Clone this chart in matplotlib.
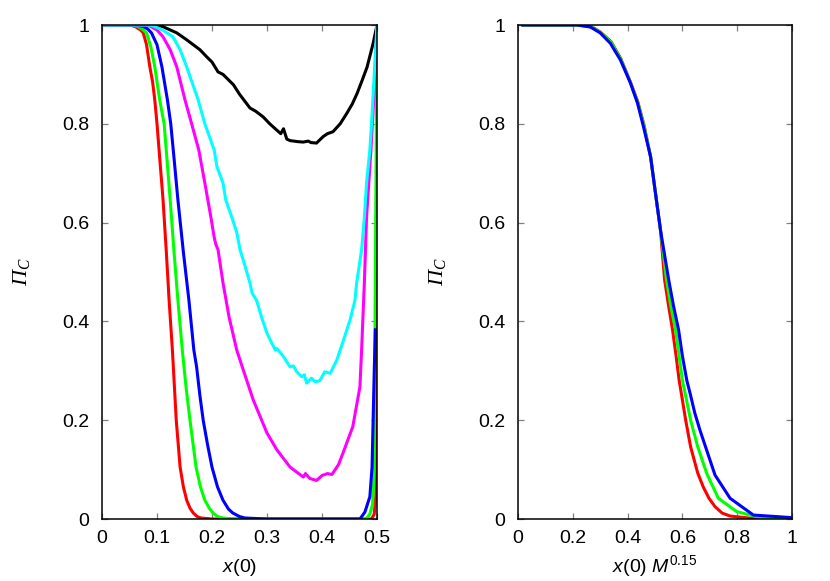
import matplotlib
matplotlib.use("Agg")
import matplotlib.pyplot as plt

plt.rcParams['font.family'] = ['Liberation Sans', 'DejaVu Sans']
plt.rcParams['mathtext.fontset'] = 'custom'
plt.rcParams['mathtext.rm'] = 'Liberation Sans'
plt.rcParams['mathtext.it'] = 'Liberation Sans:italic'
plt.rcParams['mathtext.sf'] = 'Liberation Serif:italic'

# ---------------- Left panel data: Pi_C vs x(0) ----------------
red_x = [0, 0.05, 0.06, 0.07, 0.075, 0.081, 0.087, 0.092, 0.096, 0.1, 0.105, 0.111, 0.117, 0.122, 0.128, 0.135, 0.142,
         0.148, 0.154, 0.16, 0.166, 0.173, 0.18, 0.2, 0.3, 0.4, 0.49, 0.495, 0.498, 0.499, 0.5]
red_y = [1, 1, 0.997, 0.99, 0.984, 0.96, 0.915, 0.885, 0.848, 0.8, 0.73, 0.646, 0.54, 0.443, 0.342, 0.2, 0.105,
         0.065, 0.038, 0.022, 0.012, 0.005, 0.002, 0, 0, 0, 0, 0.01, 0.05, 0.5, 1.0]

green_x = [0, 0.055, 0.065, 0.073, 0.081, 0.089, 0.096, 0.105, 0.113, 0.118, 0.124, 0.131, 0.138, 0.146, 0.153, 0.16,
           0.171, 0.179, 0.187, 0.195, 0.202, 0.21, 0.22, 0.24, 0.3, 0.4, 0.48, 0.487, 0.492, 0.495, 0.497, 0.5]
green_y = [1, 1, 0.997, 0.992, 0.984, 0.955, 0.915, 0.848, 0.8, 0.73, 0.646, 0.54, 0.443, 0.342, 0.265, 0.2,
           0.105, 0.065, 0.038, 0.022, 0.012, 0.005, 0.002, 0, 0, 0, 0, 0.01, 0.03, 0.1, 0.5, 1.0]

blue_x = [0, 0.06, 0.075, 0.083, 0.09, 0.1, 0.109, 0.119, 0.125, 0.131, 0.138, 0.148, 0.158, 0.167, 0.172, 0.178,
          0.184, 0.192, 0.2, 0.21, 0.22, 0.23, 0.238, 0.25, 0.26, 0.3, 0.4, 0.469, 0.478, 0.487, 0.491, 0.495, 0.497]
blue_y = [1, 1, 0.997, 0.992, 0.984, 0.96, 0.915, 0.848, 0.8, 0.73, 0.646, 0.54, 0.443, 0.342, 0.308, 0.25,
          0.2, 0.15, 0.105, 0.065, 0.038, 0.02, 0.012, 0.005, 0.002, 0, 0, 0, 0.014, 0.045, 0.105, 0.3, 0.383]

magenta_x = [0, 0.08, 0.087, 0.1, 0.111, 0.124, 0.136, 0.151, 0.163, 0.176, 0.187, 0.198, 0.204, 0.207, 0.211, 0.22,
             0.231, 0.245, 0.255, 0.275, 0.3, 0.318, 0.342, 0.36, 0.366, 0.37, 0.378, 0.39, 0.4, 0.41, 0.418, 0.43,
             0.438, 0.456, 0.469, 0.472, 0.477, 0.481, 0.489, 0.495, 0.5]
magenta_y = [1, 1, 0.998, 0.99, 0.976, 0.95, 0.915, 0.848, 0.8, 0.747, 0.68, 0.611, 0.57, 0.556, 0.545, 0.478,
             0.409, 0.342, 0.308, 0.241, 0.174, 0.14, 0.105, 0.09, 0.085, 0.092, 0.082, 0.078, 0.088, 0.092, 0.09,
             0.11, 0.133, 0.187, 0.268, 0.342, 0.478, 0.611, 0.747, 0.87, 1.0]

cyan_x = [0, 0.085, 0.093, 0.11, 0.129, 0.142, 0.154, 0.175, 0.187, 0.204, 0.209, 0.22, 0.225, 0.236, 0.245, 0.251,
          0.258, 0.269, 0.273, 0.281, 0.29, 0.3, 0.307, 0.315, 0.318, 0.33, 0.336, 0.342, 0.348, 0.354, 0.363, 0.368,
          0.372, 0.381, 0.388, 0.396, 0.405, 0.415, 0.427, 0.439, 0.451, 0.46, 0.463, 0.472, 0.477, 0.481, 0.487,
          0.49, 0.495, 0.5]
cyan_y = [1, 1, 0.998, 0.99, 0.976, 0.95, 0.915, 0.848, 0.8, 0.747, 0.713, 0.68, 0.646, 0.611, 0.58, 0.545,
          0.52, 0.478, 0.457, 0.443, 0.409, 0.376, 0.36, 0.342, 0.345, 0.329, 0.318, 0.308, 0.31, 0.298, 0.288, 0.292,
          0.275, 0.285, 0.278, 0.28, 0.298, 0.295, 0.322, 0.362, 0.403, 0.443, 0.478, 0.545, 0.611, 0.68, 0.747,
          0.8, 0.9, 1.0]

black_x = [0, 0.09, 0.11, 0.136, 0.154, 0.178, 0.19, 0.2, 0.211, 0.22, 0.239, 0.25, 0.269, 0.28, 0.293, 0.305, 0.318,
           0.325, 0.33, 0.336, 0.342, 0.355, 0.366, 0.375, 0.38, 0.39, 0.402, 0.41, 0.42, 0.433, 0.445, 0.455, 0.464,
           0.473, 0.482, 0.493, 0.5]
black_y = [1, 1, 0.997, 0.984, 0.97, 0.95, 0.936, 0.925, 0.905, 0.9, 0.879, 0.86, 0.832, 0.825, 0.814, 0.8, 0.787,
           0.78, 0.79, 0.769, 0.766, 0.764, 0.763, 0.765, 0.762, 0.761, 0.774, 0.78, 0.784, 0.8, 0.821, 0.84, 0.862,
           0.888, 0.915, 0.963, 1.0]

# ---------------- Right panel data: Pi_C vs x(0) M^0.15 ----------------
r_red_x = [0.018, 0.22, 0.27, 0.3, 0.34, 0.375, 0.41, 0.437, 0.46, 0.484, 0.505, 0.52, 0.535, 0.55, 0.564, 0.577, 0.588,
           0.6, 0.612, 0.63, 0.656, 0.676, 0.697, 0.719, 0.745, 0.774, 0.859, 1.0]
r_red_y = [1, 1, 0.996, 0.986, 0.966, 0.932, 0.885, 0.845, 0.797, 0.733, 0.646, 0.585, 0.484, 0.43, 0.383, 0.33, 0.281,
           0.241, 0.2, 0.146, 0.093, 0.065, 0.042, 0.025, 0.012, 0.006, 0.001, 0.0]

r_green_x = [0.018, 0.22, 0.27, 0.3, 0.34, 0.375, 0.41, 0.437, 0.46, 0.484, 0.505, 0.52, 0.542, 0.558, 0.575, 0.588,
             0.6, 0.615, 0.63, 0.656, 0.689, 0.731, 0.798, 0.883, 1.0]
r_green_y = [1, 1, 0.996, 0.985, 0.965, 0.931, 0.884, 0.843, 0.795, 0.733, 0.646, 0.585, 0.484, 0.43, 0.383, 0.33,
             0.281, 0.241, 0.2, 0.146, 0.092, 0.042, 0.015, 0.003, 0.0]

r_blue_x = [0.018, 0.216, 0.264, 0.3, 0.337, 0.374, 0.41, 0.436, 0.458, 0.484, 0.505, 0.52, 0.55, 0.568, 0.586, 0.6,
            0.616, 0.63, 0.645, 0.664, 0.719, 0.774, 0.859, 0.993, 1.0]
r_blue_y = [1, 1, 0.996, 0.984, 0.963, 0.929, 0.883, 0.842, 0.794, 0.733, 0.646, 0.585, 0.484, 0.43, 0.383, 0.33,
            0.281, 0.25, 0.215, 0.18, 0.089, 0.042, 0.008, 0.003, 0.002]

left_xticks = [0, 0.1, 0.2, 0.3, 0.4, 0.5]
left_xticklabels = ['0', '0.1', '0.2', '0.3', '0.4', '0.5']
right_xticks = [0, 0.2, 0.4, 0.6, 0.8, 1.0]
right_xticklabels = ['0', '0.2', '0.4', '0.6', '0.8', '1']
yticks = [0, 0.2, 0.4, 0.6, 0.8, 1.0]
yticklabels = ['0', '0.2', '0.4', '0.6', '0.8', '1']

fig = plt.figure(figsize=(8.3, 5.81), dpi=100)
W, H = 830, 581
axL = fig.add_axes([102 / W, (H - 519) / H, 275 / W, 494 / H])
axR = fig.add_axes([518 / W, (H - 519) / H, 274 / W, 494 / H])

lw = 2.2
axL.plot(black_x, black_y, color='#000000', lw=lw)
axL.plot(red_x, red_y, color='#ff0000', lw=lw)
axL.plot(green_x, green_y, color='#00ff00', lw=lw)
axL.plot(blue_x, blue_y, color='#0000ff', lw=lw)
axL.plot(magenta_x, magenta_y, color='#ff00ff', lw=lw)
axL.plot(cyan_x, cyan_y, color='#00ffff', lw=lw)

axR.plot(r_red_x, r_red_y, color='#ff0000', lw=lw)
axR.plot(r_green_x, r_green_y, color='#00ff00', lw=lw)
axR.plot(r_blue_x, r_blue_y, color='#0000ff', lw=lw)

for ax, xt, xtl in [(axL, left_xticks, left_xticklabels),
                    (axR, right_xticks, right_xticklabels)]:
    ax.set_xlim(xt[0], xt[-1])
    ax.set_ylim(0, 1)
    ax.set_xticks(xt)
    ax.set_xticklabels(xtl)
    ax.set_yticks(yticks)
    ax.set_yticklabels(yticklabels)
    ax.tick_params(axis='both', which='both', direction='in', top=True, right=True,
                   length=4.5, width=0.9, color='#808080', labelcolor='black', labelsize=14)
    ax.tick_params(axis='x', pad=8)
    ax.tick_params(axis='y', pad=9)
    for s in ax.spines.values():
        s.set_linewidth(1.1)
        s.set_color('black')
        s.set_zorder(5)
    ax.set_ylabel(r'$\mathsf{\Pi}_{\mathsf{C}}$', fontsize=16, labelpad=21)

# x-axis labels placed on a common baseline
base_y = (H - 572) / H
fig.text((102 + 377) / 2 / W, base_y, r'$x$(0)', fontsize=14, ha='center', va='baseline')
fig.text((518 + 792) / 2 / W, base_y, r'$x$(0) $M^{0.15}$', fontsize=14, ha='center', va='baseline')

fig.savefig('out.png', dpi=100)
